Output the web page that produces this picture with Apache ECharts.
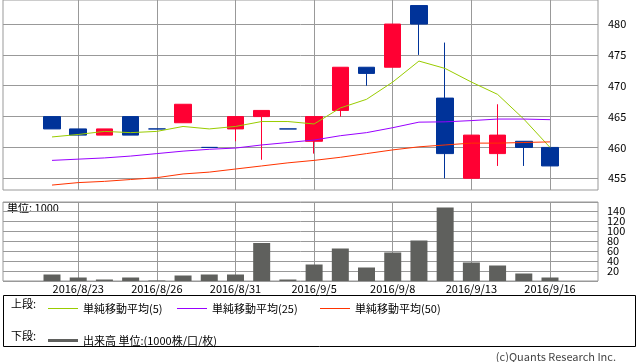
<!DOCTYPE html>
<html><head><meta charset="utf-8">
<script src="https://cdn.jsdelivr.net/npm/echarts@6/dist/echarts.min.js"></script>
<style>html,body{margin:0;padding:0;background:#fff}#c{width:638px;height:362px}</style>
</head><body><div id="c"></div>
<script>
const categories = ['2016/8/22','2016/8/23','2016/8/24','2016/8/25','2016/8/26','2016/8/29','2016/8/30','2016/8/31','2016/9/1','2016/9/2','2016/9/5','2016/9/6','2016/9/7','2016/9/8','2016/9/9','2016/9/12','2016/9/13','2016/9/14','2016/9/15','2016/9/16'];
const opens  = [465,463,462,465,463,464,460,463,465,463,461,466,473,473,483,468,455,459,461,460];
const closes = [463,462,463,462,463,467,460,465,466,463,465,473,472,480,480,459,462,462,460,457];
const lows   = [463,462,462,462,463,464,460,461,458,463,459,465,470,473,475,455,455,457,457,457];
const highs  = [465,463,463,465,463,467,460,465,466,463,465,473,473,480,483,477,462,467,461,460];
const ma5  = [461.7,462.1,462.6,462.4,462.6,463.4,463.0,463.4,464.2,464.2,463.8,466.4,467.8,470.6,474.0,472.8,470.6,468.6,464.6,460.0];
const ma25 = [457.9,458.1,458.3,458.6,459.0,459.4,459.7,459.9,460.4,460.8,461.2,461.9,462.4,463.2,464.1,464.15,464.35,464.6,464.6,464.5];
const ma50 = [453.9,454.3,454.5,454.8,455.1,455.7,456.0,456.5,457.0,457.5,457.9,458.4,459.0,459.6,460.1,460.4,460.7,460.7,460.8,460.9];
const volumes = [13,7,3,7,1,11,13,13,76,3,33,65,27,57,81,147,37,31,15,7];
const priceTicks = [455,460,465,470,475,480];
const volumeTicks = [20,40,60,80,100,120,140];
const priceMin = 453.1, priceMax = 483.9, volMax = 158;

const FONT = '"Noto Sans CJK JP", "DejaVu Sans", sans-serif';
const GRIDC = '#999999';
const labelEvery3 = (i) => i % 3 === 1;
const candleData = categories.map((c, i) => [opens[i], closes[i], lows[i], highs[i]]);
const legendText = {fontSize: 11, color: '#000', fontFamily: FONT};

const chart = echarts.init(document.getElementById('c'), null, {renderer: 'canvas'});
chart.setOption({
  animation: false,
  backgroundColor: '#fff',
  textStyle: {fontFamily: FONT},
  grid: [
    {left: 3, top: 0, width: 595, height: 190, show: true, borderColor: GRIDC, borderWidth: 1, backgroundColor: 'transparent'},
    {left: 52, top: 0, width: 498, height: 190},
    {left: 3, top: 202, width: 595, height: 79, show: true, borderColor: GRIDC, borderWidth: 1, backgroundColor: 'transparent'},
    {left: 52, top: 202, width: 498, height: 79}
  ],
  xAxis: [
    {gridIndex: 0, type: 'value', show: false, min: 0, max: 1},
    {gridIndex: 1, type: 'category', data: categories, boundaryGap: false,
     axisLine: {show: false}, axisTick: {show: false}, axisLabel: {show: false},
     splitLine: {show: true, interval: labelEvery3, lineStyle: {color: GRIDC, width: 1}}},
    {gridIndex: 2, type: 'value', show: false, min: 0, max: 1},
    {gridIndex: 3, type: 'category', data: categories, boundaryGap: false,
     axisLine: {show: false}, axisTick: {show: false},
     axisLabel: {interval: labelEvery3, margin: 2, color: '#000', fontSize: 11, fontFamily: FONT},
     splitLine: {show: true, interval: labelEvery3, lineStyle: {color: GRIDC, width: 1}}}
  ],
  yAxis: [
    {gridIndex: 0, type: 'value', position: 'right', min: priceMin, max: priceMax,
     axisLine: {show: false},
     axisTick: {show: true, customValues: priceTicks, length: 5, lineStyle: {color: GRIDC}},
     axisLabel: {customValues: priceTicks, margin: 10, color: '#000', fontSize: 11, fontFamily: FONT},
     splitLine: {show: true, lineStyle: {color: GRIDC, width: 1}}},
    {gridIndex: 1, type: 'value', min: priceMin, max: priceMax, show: false, splitLine: {show: false}},
    {gridIndex: 2, type: 'value', position: 'right', min: 0, max: volMax, interval: 20,
     axisLine: {show: false}, axisTick: {show: false},
     axisLabel: {margin: 9, color: '#000', fontSize: 11, fontFamily: FONT,
       formatter: (v) => volumeTicks.indexOf(v) >= 0 ? String(v) : ''},
     splitLine: {show: true, lineStyle: {color: GRIDC, width: 1}}},
    {gridIndex: 3, type: 'value', min: 0, max: volMax, show: false, splitLine: {show: false}}
  ],
  legend: [
    {left: 43, top: 298, icon: 'rect', itemWidth: 30, itemHeight: 1, data: ['単純移動平均(5)'], textStyle: legendText, selectedMode: false},
    {left: 172, top: 298, icon: 'rect', itemWidth: 30, itemHeight: 1, data: ['単純移動平均(25)'], textStyle: legendText, selectedMode: false},
    {left: 315, top: 298, icon: 'rect', itemWidth: 30, itemHeight: 1, data: ['単純移動平均(50)'], textStyle: legendText, selectedMode: false},
    {left: 43, top: 330, icon: 'rect', itemWidth: 30, itemHeight: 3, data: ['出来高 単位:(1000株/口/枚)'], textStyle: legendText, selectedMode: false}
  ],
  graphic: [
    {type: 'rect', left: 3, top: 295, shape: {width: 632, height: 51}, style: {fill: 'transparent', stroke: '#000', lineWidth: 1}, silent: true},
    {type: 'text', left: 11, top: 298, style: {text: '上段:', font: '11px ' + FONT, fill: '#000'}},
    {type: 'text', left: 11, top: 330, style: {text: '下段:', font: '11px ' + FONT, fill: '#000'}},
    {type: 'text', left: 7, top: 202, style: {text: '単位: 1000', font: '11px ' + FONT, fill: '#000'}},
    {type: 'text', right: 22, top: 351, style: {text: '(c)Quants Research Inc.', font: '11px ' + FONT, fill: '#444'}}
  ],
  series: [
    {name: '株価', type: 'candlestick', xAxisIndex: 1, yAxisIndex: 1, data: candleData, barWidth: 17, clip: false,
     itemStyle: {color: '#ff0033', color0: '#003399', borderColor: '#ff0033', borderColor0: '#003399', borderColorDoji: '#003399', borderWidth: 1}},
    {name: '単純移動平均(5)', type: 'line', xAxisIndex: 1, yAxisIndex: 1, data: ma5, symbol: 'none', clip: false,
     lineStyle: {color: '#99cc00', width: 1}, itemStyle: {color: '#99cc00'}},
    {name: '単純移動平均(25)', type: 'line', xAxisIndex: 1, yAxisIndex: 1, data: ma25, symbol: 'none', clip: false,
     lineStyle: {color: '#9900ff', width: 1}, itemStyle: {color: '#9900ff'}},
    {name: '単純移動平均(50)', type: 'line', xAxisIndex: 1, yAxisIndex: 1, data: ma50, symbol: 'none', clip: false,
     lineStyle: {color: '#ff3300', width: 1}, itemStyle: {color: '#ff3300'}},
    {name: '出来高 単位:(1000株/口/枚)', type: 'bar', xAxisIndex: 3, yAxisIndex: 3, data: volumes, barWidth: 17, clip: false,
     itemStyle: {color: '#5f605d'}}
  ]
});
</script></body></html>
